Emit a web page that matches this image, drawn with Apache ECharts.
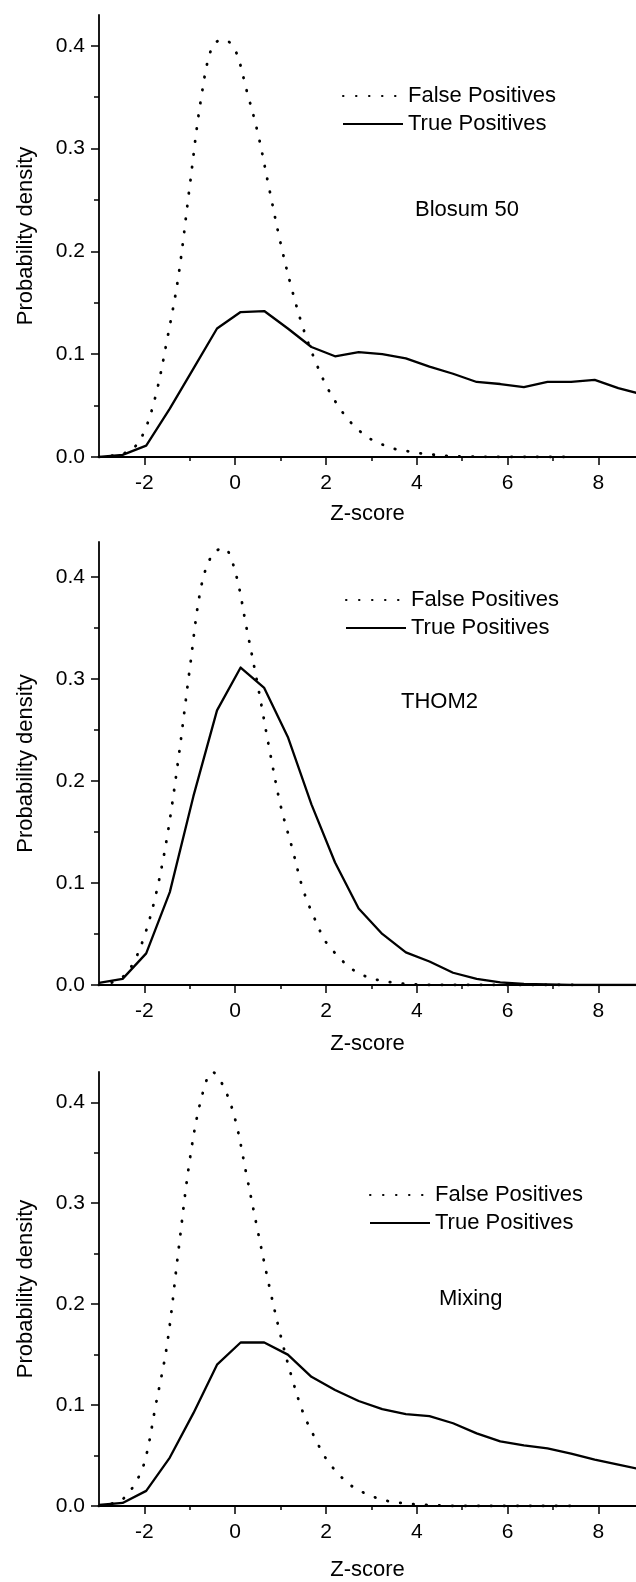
<!DOCTYPE html>
<html>
<head>
<meta charset="utf-8">
<title>Z-score distributions</title>
<script src="https://cdn.jsdelivr.net/npm/echarts@6/dist/echarts.min.js"></script>
<style>
  html, body { margin: 0; padding: 0; background: #fff; }
  #chart { width: 636px; height: 1582px; }
</style>
</head>
<body>
<div id="chart"></div>
<script>
// bins of the true-positive histograms (Z-score)
var zBins = [-3.00, -2.48, -1.96, -1.44, -0.92, -0.40, 0.12, 0.64, 1.16, 1.68, 2.20, 2.72,
             3.24, 3.76, 4.28, 4.80, 5.32, 5.84, 6.36, 6.88, 7.40, 7.92, 8.44, 8.96];
var blosumTrue = [0.000, 0.002, 0.011, 0.047, 0.086, 0.125, 0.141, 0.142, 0.125, 0.107, 0.098, 0.102,
                  0.100, 0.096, 0.088, 0.081, 0.073, 0.071, 0.068, 0.073, 0.073, 0.075, 0.067, 0.061];
var thomTrue = [0.002, 0.006, 0.031, 0.091, 0.185, 0.269, 0.311, 0.291, 0.243, 0.177, 0.120, 0.075,
                0.050, 0.032, 0.023, 0.012, 0.006, 0.0025, 0.001, 0.0005, 0, 0, 0, 0];
var mixingTrue = [0.001, 0.003, 0.015, 0.048, 0.092, 0.140, 0.162, 0.162, 0.150, 0.128, 0.115, 0.104,
                  0.096, 0.091, 0.089, 0.082, 0.072, 0.064, 0.060, 0.057, 0.052, 0.046, 0.041, 0.036];

// false-positive curves, read on a finer grid
var zFine = [-3.00, -2.75, -2.50, -2.25, -2.00, -1.75, -1.50, -1.25, -1.00, -0.75, -0.50, -0.25,
             0.00, 0.25, 0.50, 0.75, 1.00, 1.25, 1.50, 1.75, 2.00, 2.25, 2.50, 2.75,
             3.00, 3.25, 3.50, 3.75, 4.00, 4.25, 4.50, 4.75, 5.00, 6.00, 7.00, 7.50];
var blosumFalse = [0, 0.001, 0.003, 0.008, 0.025, 0.060, 0.114, 0.176, 0.264, 0.349, 0.400, 0.406,
                   0.396, 0.357, 0.315, 0.261, 0.208, 0.163, 0.125, 0.095, 0.070, 0.051, 0.036, 0.025,
                   0.017, 0.012, 0.008, 0.006, 0.004, 0.003, 0.0015, 0.001, 0.0005, 0, 0, 0];
var thomFalse = [0, 0.002, 0.007, 0.021, 0.048, 0.088, 0.145, 0.222, 0.310, 0.390, 0.422, 0.428,
                 0.405, 0.350, 0.293, 0.232, 0.176, 0.135, 0.093, 0.065, 0.042, 0.029, 0.018, 0.011,
                 0.0065, 0.004, 0.0023, 0.0012, 0.0005, 0, 0, 0, 0, 0, 0, 0];
var mixingFalse = [0, 0.002, 0.006, 0.019, 0.043, 0.100, 0.160, 0.253, 0.343, 0.403, 0.430, 0.415,
                   0.383, 0.328, 0.272, 0.218, 0.169, 0.127, 0.092, 0.068, 0.047, 0.033, 0.022, 0.015,
                   0.010, 0.006, 0.004, 0.0025, 0.0015, 0.001, 0.0005, 0, 0, 0, 0, 0];

var panelNames = ['Blosum 50', 'THOM2', 'Mixing'];
var xTicks = [-2, 0, 2, 4, 6, 8];
var xMinorTicks = [-1, 1, 3, 5, 7];
var yTicks = [0, 0.1, 0.2, 0.3, 0.4];
var yMinorTicks = [0.05, 0.15, 0.25, 0.35];

function pairs(xs, ys) {
    return xs.map(function (x, i) { return [x, ys[i]]; });
}

var FONT = '"Liberation Sans", Arial, sans-serif';
var grids = [
    { left: 99, right: 0, top: 15, height: 442 },
    { left: 99, right: 0, top: 542, height: 443 },
    { left: 99, right: 0, top: 1072, height: 443 }
];
var yMax = [0.43, 0.434, 0.43];
var xNameGap = [46, 48, 53];
var legendPos = [
    { left: 342, top: 85 },
    { left: 345, top: 589 },
    { left: 369, top: 1184 }
];
var notePos = [
    { left: 415, top: 199 },
    { left: 401, top: 691 },
    { left: 439, top: 1288 }
];
var trueData = [blosumTrue, thomTrue, mixingTrue];
var falseData = [blosumFalse, thomFalse, mixingFalse];

var xAxes = [], yAxes = [], series = [], legends = [], titles = [];
var axisLine = { show: true, onZero: false, lineStyle: { color: '#000', width: 1.8 } };

grids.forEach(function (g, i) {
    xAxes.push({
        gridIndex: i, type: 'value', min: -3, max: 8.83, position: 'bottom',
        name: 'Z-score', nameLocation: 'middle', nameGap: xNameGap[i],
        nameTextStyle: { fontSize: 22, color: '#000', fontFamily: FONT },
        axisLine: axisLine,
        axisTick: { show: true, inside: false, length: 8, customValues: xTicks, lineStyle: { color: '#000', width: 1.5 } },
        axisLabel: { customValues: xTicks, margin: 16, fontSize: 21, color: '#000', fontFamily: FONT },
        splitLine: { show: false }
    });
    xAxes.push({
        gridIndex: i, type: 'value', min: -3, max: 8.83, position: 'bottom',
        axisLine: { show: false, onZero: false },
        axisTick: { show: true, length: 4, customValues: xMinorTicks, lineStyle: { color: '#000', width: 1.5 } },
        axisLabel: { show: false },
        splitLine: { show: false }
    });
    yAxes.push({
        gridIndex: i, type: 'value', min: 0, max: yMax[i], position: 'left',
        name: 'Probability density', nameLocation: 'middle', nameGap: 62,
        nameTextStyle: { fontSize: 22, color: '#000', fontFamily: FONT },
        axisLine: axisLine,
        axisTick: { show: true, inside: false, length: 8, customValues: yTicks, lineStyle: { color: '#000', width: 1.5 } },
        axisLabel: {
            customValues: yTicks, margin: 14, fontSize: 21, color: '#000', fontFamily: FONT,
            formatter: function (v) { return v.toFixed(1); }
        },
        splitLine: { show: false }
    });
    yAxes.push({
        gridIndex: i, type: 'value', min: 0, max: yMax[i], position: 'left',
        axisLine: { show: false, onZero: false },
        axisTick: { show: true, length: 5, customValues: yMinorTicks, lineStyle: { color: '#000', width: 1.5 } },
        axisLabel: { show: false },
        splitLine: { show: false }
    });

    series.push({
        name: 'False Positives', type: 'line', xAxisIndex: 2 * i, yAxisIndex: 2 * i,
        data: pairs(zFine, falseData[i]), smooth: 0.35, showSymbol: false, symbol: 'none',
        itemStyle: { color: '#000' },
        lineStyle: { color: '#000', width: 2.8, type: [0.5, 12.5], cap: 'round' },
        silent: true, animation: false
    });
    series.push({
        name: 'True Positives', type: 'line', xAxisIndex: 2 * i, yAxisIndex: 2 * i,
        data: pairs(zBins, trueData[i]), showSymbol: false, symbol: 'none',
        itemStyle: { color: '#000' },
        lineStyle: { color: '#000', width: 2.3, join: 'round' },
        silent: true, animation: false
    });

    legends.push({
        orient: 'vertical', left: legendPos[i].left, top: legendPos[i].top,
        itemWidth: 60, itemHeight: 14, itemGap: 6, padding: 0,
        selectedMode: false,
        itemStyle: { color: 'rgba(0,0,0,0)', borderWidth: 0, opacity: 0 },
        textStyle: { fontSize: 22, color: '#000', fontFamily: FONT },
        data: ['False Positives', 'True Positives']
    });
    titles.push({
        text: panelNames[i], left: notePos[i].left, top: notePos[i].top, padding: 0,
        textStyle: { fontSize: 22, fontWeight: 'normal', color: '#000', fontFamily: FONT }
    });
});

var chart = echarts.init(document.getElementById('chart'), null, { renderer: 'canvas' });
chart.setOption({
    backgroundColor: '#fff',
    animation: false,
    title: titles,
    legend: legends,
    grid: grids,
    xAxis: xAxes,
    yAxis: yAxes,
    series: series
});
</script>
</body>
</html>
